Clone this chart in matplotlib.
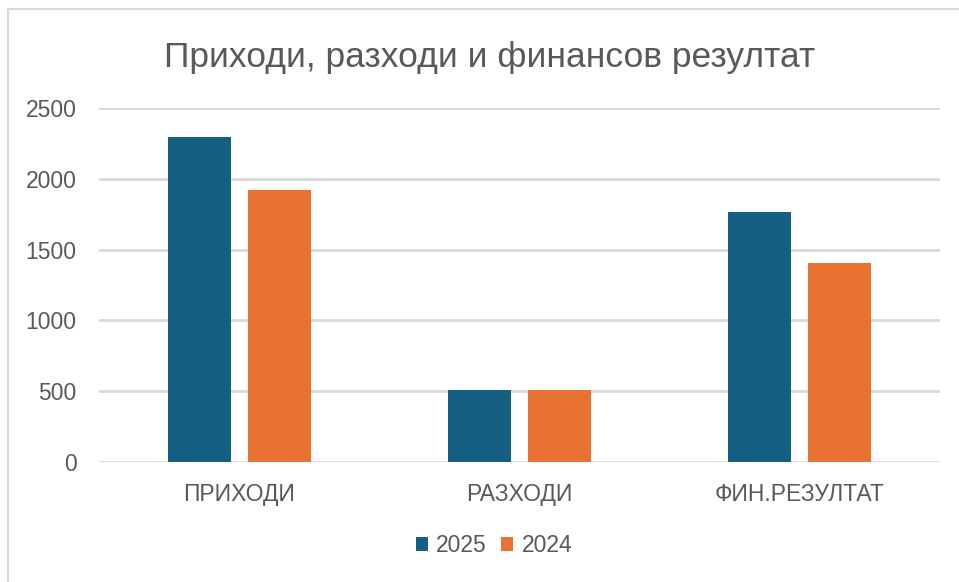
import numpy as np
import matplotlib.pyplot as plt
from matplotlib.patches import Rectangle

categories = ['ПРИХОДИ', 'РАЗХОДИ', 'ФИН.РЕЗУЛТАТ']
values_2025 = [2293, 510, 1765]
values_2024 = [1920, 510, 1405]
series_labels = ['2025', '2024']
yticks = [0, 500, 1000, 1500, 2000, 2500]

blue = '#156082'
orange = '#E97132'
text_gray = '#595959'
grid_gray = '#D9D9D9'

plt.rcParams['font.family'] = ['Liberation Sans', 'DejaVu Sans']

fig = plt.figure(figsize=(9.59, 5.82), dpi=100)
ax = fig.add_axes([0.1032, 0.2057, 0.877, 0.6093])

x = np.arange(len(categories))
w = 0.225
off = 0.1425
ax.bar(x - off, values_2025, w, color=blue, label=series_labels[0], zorder=3)
ax.bar(x + off, values_2024, w, color=orange, label=series_labels[1], zorder=3)

ax.set_xlim(-0.5, 2.5)
ax.set_ylim(0, 2500)
ax.set_yticks(yticks)
ax.set_xticks(x)
ax.set_xticklabels(categories)
ax.grid(axis='y', color=grid_gray, linewidth=2, zorder=0)
ax.tick_params(axis='both', length=0, labelsize=16.5, labelcolor=text_gray)
ax.tick_params(axis='y', pad=16)
ax.tick_params(axis='x', pad=15)
for s in ax.spines.values():
    s.set_visible(False)

fig.text(0.511, 1 - 66.5 / 582, 'Приходи, разходи и финансов резултат',
         ha='center', va='baseline', fontsize=25.5, color=text_gray)

leg = fig.legend(loc='center', bbox_to_anchor=(0.515, 0.062), ncol=2,
                 frameon=False, fontsize=16.5, handlelength=0.55, handleheight=0.55,
                 handletextpad=0.35, columnspacing=0.6)
for t in leg.get_texts():
    t.set_color(text_gray)

# chart border
fig.patches.append(Rectangle((8 / 959, -0.02), 1.0, 1 - 9 / 582 + 0.02,
                             transform=fig.transFigure, fill=False,
                             edgecolor='#D9D9D9', linewidth=1.5))

fig.savefig('out.png', dpi=100)
